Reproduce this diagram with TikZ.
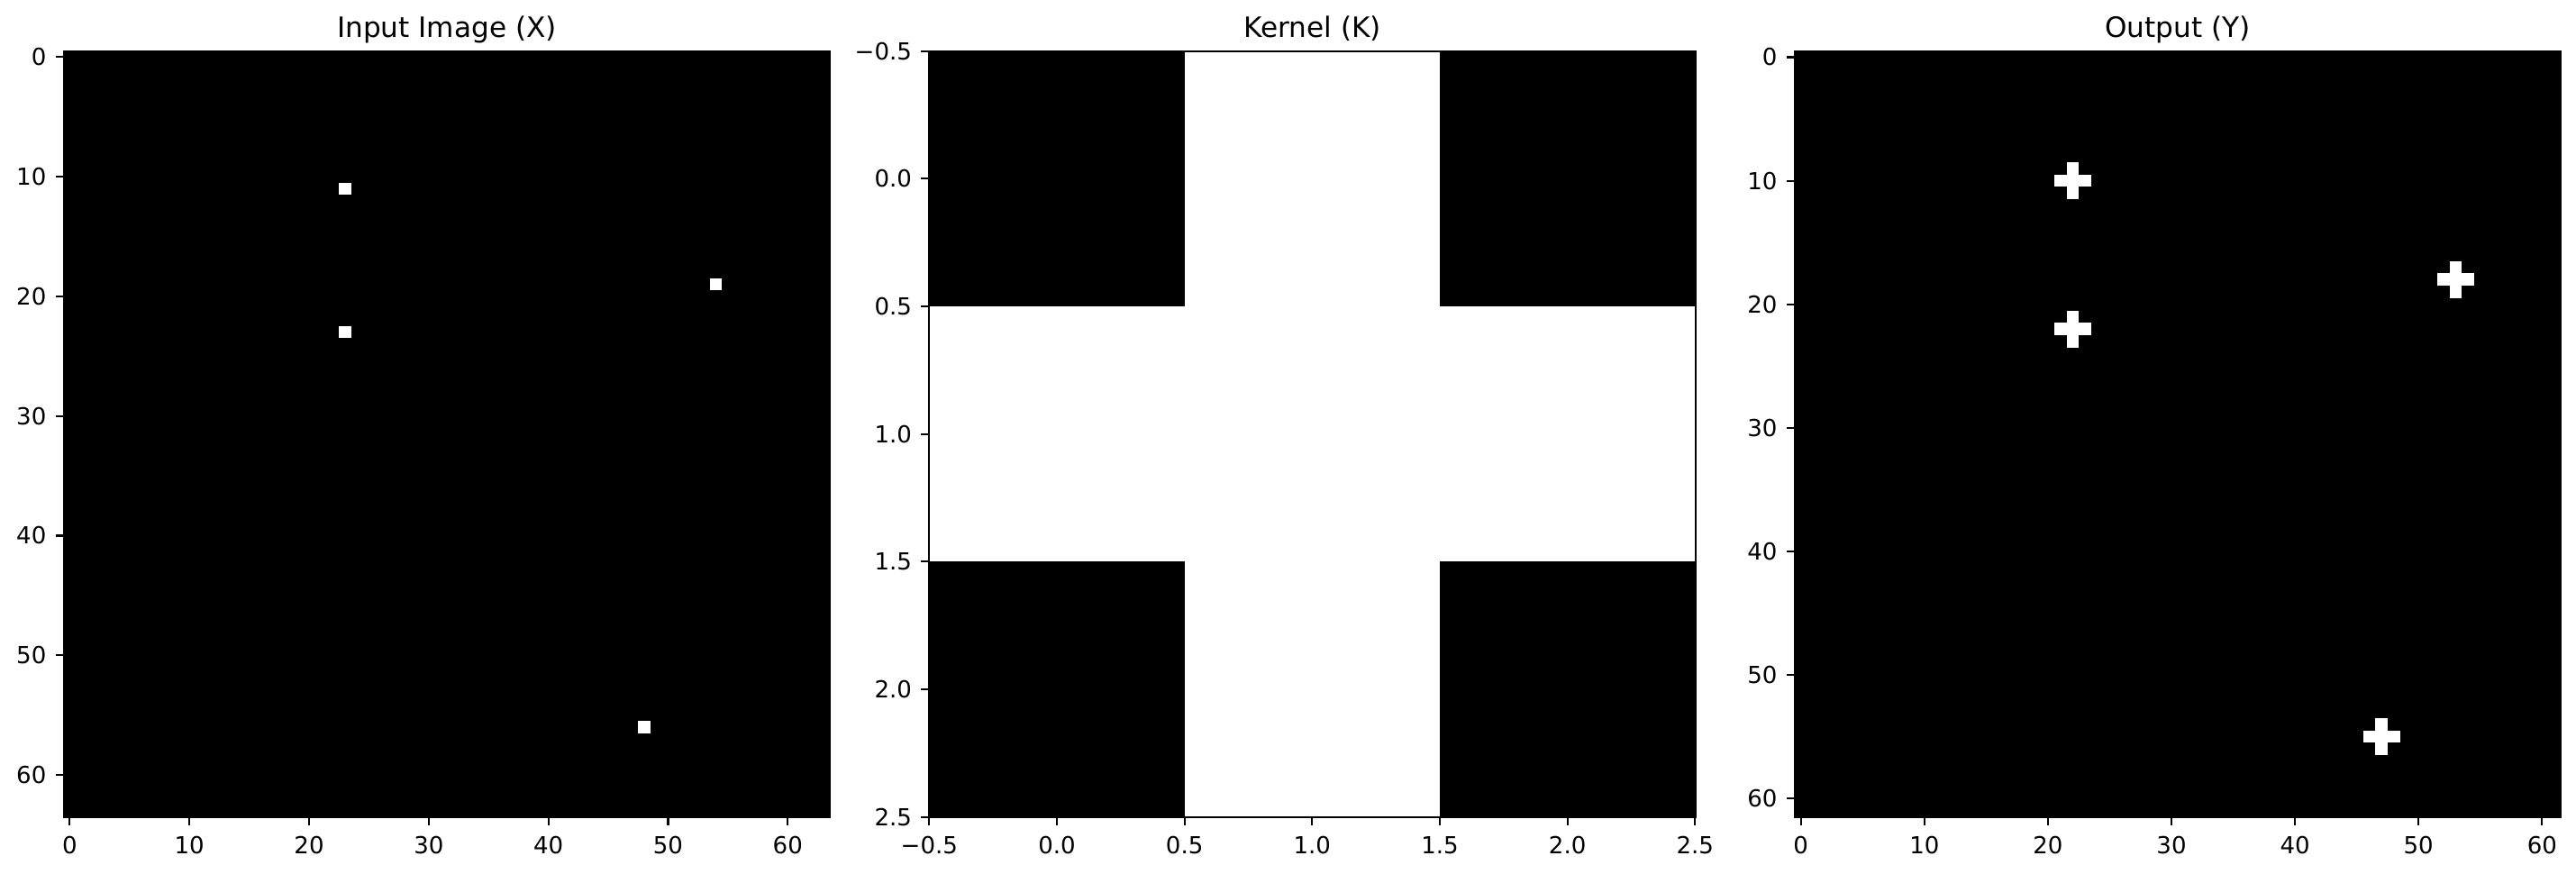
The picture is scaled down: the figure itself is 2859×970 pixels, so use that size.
\documentclass[tikz,border=0pt]{standalone}
\usepackage{fontspec}
\setmainfont{DejaVu Sans}
\usetikzlibrary{positioning}

\begin{document}
\begin{tikzpicture}[
  x=0.01cm,y=-0.01cm,
  font=\fontsize{7.4}{9}\selectfont,
  panel/.style={fill=black,minimum width=8.5cm,minimum height=8.5cm,inner sep=0pt,outer sep=0pt},
  spine/.style={draw=black,line width=0.6pt},
  tickmark/.style={line width=0.6pt},
  ttl/.style={font=\fontsize{8.85}{11}\selectfont,anchor=base,inner sep=0pt},
  xlab/.style={anchor=north,inner sep=0pt},
  ylab/.style={anchor=east,inner sep=0pt}
]
  \useasboundingbox[fill=white] (0,0) rectangle (2859,970);

  % the three panels
  \node[panel] (inX) at (496,481.85) {};
  \node[panel,right=1.1cm of inX] (kerK) {};
  \node[panel,right=1.1cm of kerK] (outY) {};

  \node[ttl] (tX) at ([yshift=0.15cm]inX.north) {Input Image (X)};
  \node[ttl] (tK) at ([yshift=0.15cm]kerK.north) {Kernel (K)};
  \node[ttl] (tY) at ([yshift=0.15cm]outY.north) {Output (Y)};

  % input image, 64x64, four lit pixels
  \begin{scope}[shift={(inX.north west)}]
    \foreach \c/\r in {23/11,23/23,54/19,48/56}
      \fill[white] ({\c*13.281},{\r*13.281}) rectangle ++(13.281,13.281);
    \foreach \v in {0,10,...,60} {
      \draw[tickmark] ({(\v+0.5)*13.281},850) -- ++(0,9.1);
      \draw[tickmark] (0,{(\v+0.5)*13.281}) -- ++(-9.1,0);
      \node[xlab] (inXx\v) at ({(\v+0.5)*13.281},871) {\v};
      \node[ylab] (inXy\v) at (-18.7,{(\v+0.5)*13.281}) {\v};
    }
  \end{scope}

  % kernel, 3x3 cross
  \begin{scope}[shift={(kerK.north west)}]
    \fill[white] (283.33,0) rectangle (566.67,850);
    \fill[white] (0,283.33) rectangle (850,566.67);
    \foreach \v/\t [count=\i] in {-0.5/−0.5,0.0/0.0,0.5/0.5,1.0/1.0,1.5/1.5,2.0/2.0,2.5/2.5} {
      \draw[tickmark] ({(\v+0.5)*283.33},850) -- ++(0,9.1);
      \draw[tickmark] (0,{(\v+0.5)*283.33}) -- ++(-9.1,0);
      \node[xlab] (kerKx\i) at ({(\v+0.5)*283.33},871) {\t};
      \node[ylab] (kerKy\i) at (-18.7,{(\v+0.5)*283.33}) {\t};
    }
  \end{scope}

  % output, 62x62, one cross per input pixel
  \begin{scope}[shift={(outY.north west)}]
    \foreach \c/\r in {22/10,22/22,53/18,47/55} {
      \fill[white] ({(\c-1)*13.71},{\r*13.71}) rectangle ++(41.13,13.71);
      \fill[white] ({\c*13.71},{(\r-1)*13.71}) rectangle ++(13.71,41.13);
    }
    \foreach \v in {0,10,...,60} {
      \draw[tickmark] ({(\v+0.5)*13.71},850) -- ++(0,9.1);
      \draw[tickmark] (0,{(\v+0.5)*13.71}) -- ++(-9.1,0);
      \node[xlab] (outYx\v) at ({(\v+0.5)*13.71},871) {\v};
      \node[ylab] (outYy\v) at (-18.7,{(\v+0.5)*13.71}) {\v};
    }
  \end{scope}

  \foreach \p in {inX,kerK,outY}
    \draw[spine] (\p.north west) rectangle (\p.south east);
\end{tikzpicture}
\end{document}
